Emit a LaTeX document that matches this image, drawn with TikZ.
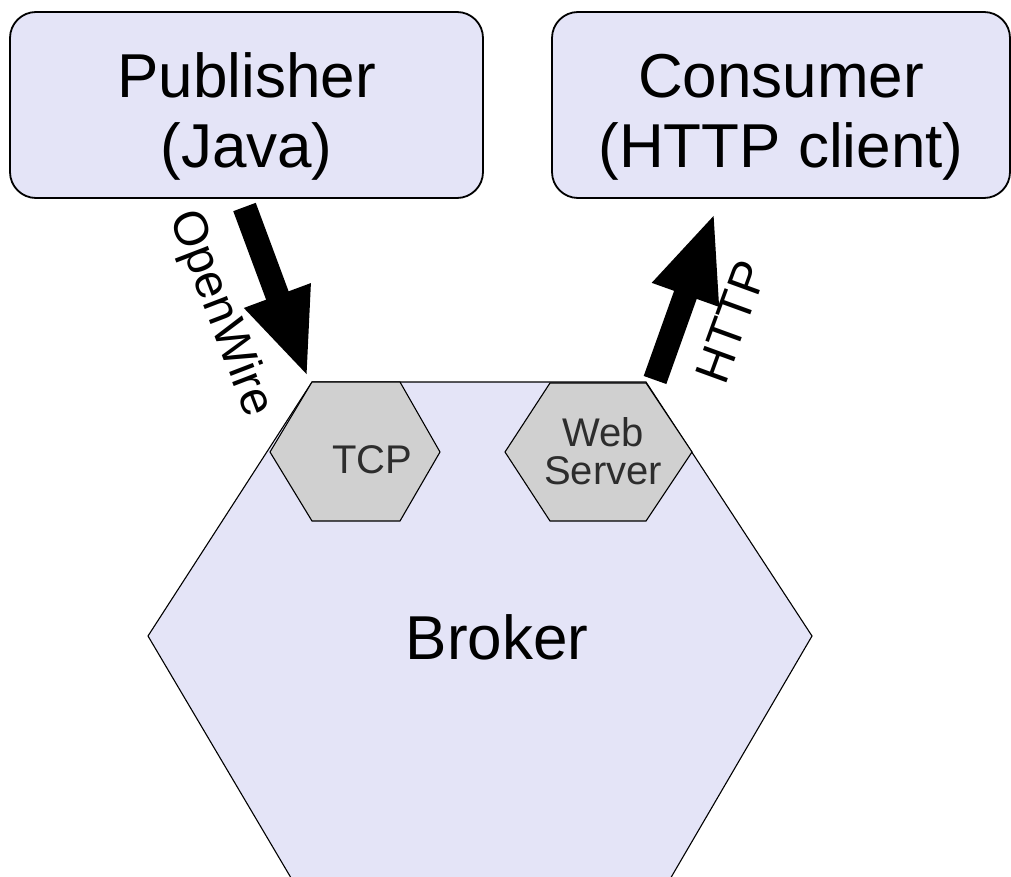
\documentclass[tikz,border=0pt]{standalone}
\usepackage{fontspec}
\setmainfont{Liberation Sans}
\usetikzlibrary{arrows.meta}
\definecolor{lav}{RGB}{228,228,247}
\definecolor{hexgrey}{RGB}{208,208,208}
\definecolor{dtext}{RGB}{45,45,45}
\tikzset{
  clientbox/.style={draw=black, line width=1.8pt, fill=lav, rounded corners=26pt, align=center,
    font=\fontsize{62}{70}\selectfont, inner sep=0pt},
  hexline/.style={draw=black, line width=1.1pt},
  biglabel/.style={font=\fontsize{62}{70}\selectfont, text=black},
  smalllabel/.style={font=\fontsize{40}{44}\selectfont, text=dtext, align=center},
  protolabel/.style={font=\fontsize{48}{52}\selectfont, text=black},
  bigarrow/.style={line width=24pt, -{Triangle[length=88pt,width=64pt]}}
}
\begin{document}
\begin{tikzpicture}[x=1pt,y=-1pt]
\useasboundingbox (0,0) rectangle (1011,877);
\clip (0,0) rectangle (1011,877);
% client boxes
\node[clientbox, minimum width=473pt, minimum height=186pt] (pub) at (246.5,105) {\rule{0pt}{68pt}Publisher\\(Java)};
\node[clientbox, minimum width=458pt, minimum height=186pt] (con) at (781,105) {\rule{0pt}{68pt}Consumer\\(HTTP client)};
% broker hexagon
\path[hexline, fill=lav] (312,382) -- (646,382) -- (812,636) -- (652,910) -- (310,910) -- (148,636) -- cycle;
\node[biglabel] (broker) at (497,637) {Broker};
% TCP hexagon
\path[hexline, fill=hexgrey] (312,382) -- (400,382) -- (440,452) -- (400,521) -- (312,521) -- (270,452) -- cycle;
\node[smalllabel] (tcp) at (372,460) {TCP};
% Web server hexagon
\path[hexline, fill=hexgrey] (550,383) -- (646,383) -- (692,452) -- (646,521) -- (550,521) -- (505,452) -- cycle;
\node[smalllabel] (web) at (603,451) {Web\\[-6pt]Server};
% arrows
\coordinate (owstart) at (244.5,207);
\coordinate (owtip) at (308,378);
\coordinate (htstart) at (655,380);
\coordinate (httip) at (715,212);
\draw[bigarrow] (owstart) -- (owtip);
\draw[bigarrow] (htstart) -- (httip);
\node[protolabel, rotate=-69] (ow) at (220,314) {OpenWire};
\node[protolabel, rotate=70] (http) at (731,322) {HTTP};
\end{tikzpicture}
\end{document}
